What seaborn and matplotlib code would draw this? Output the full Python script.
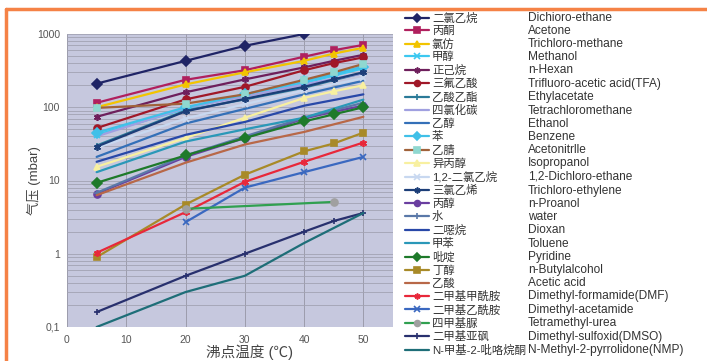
import numpy as np
import pandas as pd
import matplotlib
matplotlib.use('Agg')
import matplotlib.pyplot as plt
from matplotlib.lines import Line2D
import seaborn as sns

# temperatures (C) where readings were taken
temps = [5, 20, 30, 40, 45, 50]

# vapour pressure in mbar, None = no reading
dichloro_ethane = [210, 430, 690, 1000, None, None]
acetone = [115, 237, 320, 490, 600, 710]
trichloro_methane = [100, 205, 300, 430, 540, 650]
methanol = [42, 95, 150, 215, 270, 340]
n_hexan = [74, 160, 240, 350, 430, 520]
tfa = [52, 128, 190, 320, 400, 480]
ethylacetate = [30, 90, 128, 185, 235, 295]
tetrachloromethane = [40, 98, 140, 205, None, 290]
ethanol = [21, 60, 95, 150, None, 230]
benzene = [45, 100, 150, 230, 285, 360]
acetonitrile = [98, 112, 150, 237, 300, 390]
isopropanol = [15.4, 38, 72, 134, 165, 200]
dichloro_ethane_12 = [28, 70, 110, 170, None, 250]
trichloro_ethylene = [29, 88, 130, 190, 240, 300]
n_proanol = [6.6, 21, 38, 70, 87, 105]
water = [6.8, 22, 40, 72, None, 115]
dioxan = [18, 42, 63, 105, None, 150]
toluene = [13, 34, 50, 72, None, 127]
pyridine = [9.3, 22, 38, 64, 80, 100]
n_butylalcohol = [0.9, 4.7, 12, 25, 32, 45]
acetic_acid = [6.3, 17.5, 31, 46, None, 74]
dmf = [1.03, 3.7, 9.6, 18, None, 33]
dmac = [None, 2.7, 8, 13, None, 21]
tetramethyl_urea = [None, 4.1, None, None, 5.1, None]
dmso = [0.16, 0.5, 1.0, 2.0, 2.8, 3.6]
nmp = [0.1, 0.3, 0.5, 1.4, None, 3.6]

names_cn = ['二氯乙烷', '丙酮', '氯仿', '甲醇', '正己烷', '三氟乙酸', '乙酸乙酯',
            '四氯化碳', '乙醇', '苯', '乙腈', '异丙醇', '1,2-二氯乙烷', '三氯乙烯',
            '丙醇', '水', '二噁烷', '甲苯', '吡啶', '丁醇', '乙酸', '二甲基甲酰胺',
            '二甲基乙酰胺', '四甲基脲', '二甲基亚砜', 'N-甲基-2-吡咯烷酮']
names_en = ['Dichioro-ethane', 'Acetone', 'Trichloro-methane', 'Methanol', 'n-Hexan',
            'Trifluoro-acetic acid(TFA)', 'Ethylacetate', 'Tetrachloromethane', 'Ethanol',
            'Benzene', 'Acetonitrlle', 'Isopropanol', '1,2-Dichloro-ethane',
            'Trichloro-ethylene', 'n-Proanol', 'water', 'Dioxan', 'Toluene', 'Pyridine',
            'n-Butylalcohol', 'Acetic acid', 'Dimethyl-formamide(DMF)', 'Dimethyl-acetamide',
            'Tetramethyl-urea', 'Dimethyl-sulfoxid(DMSO)', 'N-Methyl-2-pyrrolidone(NMP)']

series = [dichloro_ethane, acetone, trichloro_methane, methanol, n_hexan, tfa,
          ethylacetate, tetrachloromethane, ethanol, benzene, acetonitrile, isopropanol,
          dichloro_ethane_12, trichloro_ethylene, n_proanol, water, dioxan, toluene,
          pyridine, n_butylalcohol, acetic_acid, dmf, dmac, tetramethyl_urea, dmso, nmp]

# line colour, marker, marker colour
styles = [
    ('#1f2466', 'D', '#1f2466'), ('#b0205e', 's', '#b0205e'), ('#f2c400', '^', '#f2c400'),
    ('#3cc8f0', 'x', '#3cc8f0'), ('#6e1f5c', (6, 2, 0), '#6e1f5c'), ('#a01828', 'o', '#a01828'),
    ('#2a7a98', '+', '#2a7a98'), ('#a0a0e0', '_', '#a0a0e0'), ('#3470b8', None, None),
    ('#40c0e8', 'D', '#40c0e8'), ('#a0623a', 's', '#8fd8d0'), ('#f8f0a0', '^', '#f8f0a0'),
    ('#c8d8f0', 'x', '#c8d8f0'), ('#1c3e78', (6, 2, 0), '#1c3e78'), ('#6a3ea0', 'o', '#6a3ea0'),
    ('#5a78a8', '+', '#5a78a8'), ('#2848a8', None, None), ('#2a98b8', None, None),
    ('#1e7a2a', 'D', '#1e7a2a'), ('#a88a28', 's', '#a88a28'), ('#b86848', None, None),
    ('#e8283a', (6, 2, 0), '#e8283a'), ('#3a68c0', 'x', '#3a68c0'), ('#30a050', 'o', '#a0a0a0'),
    ('#28306e', '+', '#28306e'), ('#1e6e78', None, None),
]

sns.set_theme(style='white')
plt.rcParams['font.family'] = ['Liberation Sans', 'Noto Sans CJK SC', 'DejaVu Sans']

fig = plt.figure(figsize=(7.07, 3.61), dpi=100)
ax = fig.add_axes([67 / 707, 1 - 327 / 361, 326 / 707, 293 / 361])
ax.set_facecolor('#c6c8de')

for vals, cn, (col, mk, mcol) in zip(series, names_cn, styles):
    d = pd.DataFrame({'t': temps, 'p': vals}).dropna()
    sns.lineplot(data=d, x='t', y='p', ax=ax, color=col, lw=1.6, marker=mk,
                 markersize=5, markerfacecolor=mcol, markeredgecolor=mcol,
                 markeredgewidth=1.2, label=cn, legend=False)

ax.set_yscale('log')
ax.set_ylim(0.1, 1000)
ax.set_xlim(0, 55)
ax.set_xticks([0, 10, 20, 30, 40, 50])
ax.set_yticks([0.1, 1, 10, 100, 1000])
ax.set_yticklabels(['0,1', '1', '10', '100', '1000'])
ax.grid(which='major', axis='x', color='#9c9cac', lw=0.7)
ax.grid(which='both', axis='y', color='#a2a2b2', lw=0.6)
ax.set_axisbelow(True)
for s in ax.spines.values():
    s.set_visible(False)
ax.tick_params(axis='both', which='both', length=0, labelsize=7.5, labelcolor='#555555')
ax.tick_params(axis='y', pad=5)
ax.tick_params(axis='x', pad=6)

ax.set_xlabel('沸点温度 (℃)', fontsize=10.5, color='#444444')
ax.xaxis.set_label_coords(0.561, -0.06)
ax.set_ylabel('气压 (mbar)', fontsize=9.5, color='#444444')
ax.yaxis.set_label_coords(-0.08, 0.5)

handles, labels = ax.get_legend_handles_labels()
leg = fig.legend(handles, labels, loc='upper left', bbox_to_anchor=(405 / 707, 1 - 12.5 / 361),
                 frameon=False, fontsize=8.2, handlelength=2.1, handletextpad=0.26,
                 labelspacing=0.205, borderpad=0, borderaxespad=0, markerscale=0.85)
for t in leg.get_texts():
    t.set_color('#333333')

fig.canvas.draw()
inv = fig.transFigure.inverted()
for t, en in zip(leg.get_texts(), names_en):
    bb = t.get_window_extent()
    yc = inv.transform((0, (bb.y0 + bb.y1) / 2))[1]
    fig.text(528 / 707, yc, en, fontsize=8.6, color='#333333', va='center', ha='left')

# orange frame on top and left
fig.add_artist(Line2D([6 / 707, 1.01], [1 - 8.5 / 361, 1 - 8.5 / 361],
                      transform=fig.transFigure, color='#f58246', lw=2.5))
fig.add_artist(Line2D([6 / 707, 6 / 707], [1 - 8.5 / 361, -0.01],
                      transform=fig.transFigure, color='#f58246', lw=2.5))

fig.savefig('out.png', dpi=100, facecolor='white')
